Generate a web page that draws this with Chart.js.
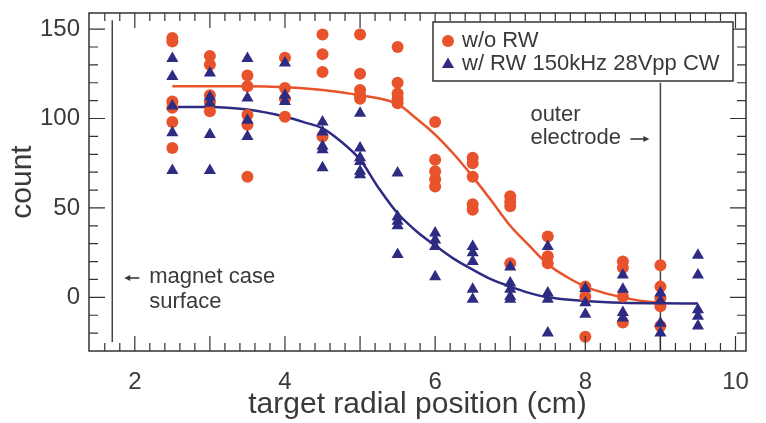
<!DOCTYPE html>
<html>
<head>
<meta charset="utf-8">
<script src="https://cdn.jsdelivr.net/npm/chart.js@4.4.0/dist/chart.umd.min.js"></script>
<style>
  body { margin: 0; background: #fff; }
  #wrap { width: 766px; height: 423px; }
</style>
</head>
<body>
<div id="wrap"><canvas id="chart1" width="766" height="423"></canvas></div>
<script>
// target radial positions (cm) where counts were measured
const positions = [2.5, 3, 3.5, 4, 4.5, 5, 5.5, 6, 6.5, 7, 7.5, 8, 8.5, 9, 9.5];

// w/o RW, one list of counts per position
const countsNoRW = [
    [145, 143, 109.5, 106, 98, 83.5],
    [135, 130, 113, 109, 104],
    [124, 118, 102, 96.5, 67.5],
    [134, 117, 111, 101],
    [147, 136, 126, 90],
    [147, 125, 116, 113, 111],
    [140, 120, 114, 111, 108.5],
    [98, 77, 70.5, 66, 62],
    [78, 75, 67.5, 52, 49],
    [56.5, 53.5, 51, 19],
    [34, 23, 19],
    [6, 0.5, -22],
    [20, 16.5, 0.5, -14],
    [18, 6, -0.5, -5, -16],
    []
];

// w/ RW 150kHz 28Vpp CW
const countsRW = [
    [133.5, 123.5, 107, 92, 71],
    [125.5, 112, 108.5, 91, 71],
    [133.5, 111.5, 99, 90],
    [131, 113, 109.5],
    [98, 92.5, 84.5, 82.5, 72.5],
    [103, 83.5, 78, 76, 70.5, 68.5],
    [69.5, 45, 42.5, 40, 24],
    [36, 32, 28.5, 11.5],
    [28.5, 25, 20, 4.5, -1],
    [17, 8, 4.5, 0.5, -1],
    [28.5, 2.5, -1, -20],
    [5, -3, -9.5],
    [12.5, 4.5, -8.5, -11.5],
    [2.5, -2, -14.5, -20],
    [23.5, 12.5, -7, -10.5, -16]
];

// fitted curves
const fitNoRWX = [2.5, 3, 3.5, 4, 4.5, 5, 5.5, 5.75, 6, 6.25, 6.5, 6.75, 7, 7.25, 7.5, 7.75, 8, 8.25, 8.5, 8.75, 9];
const fitNoRWY = [118, 118, 118, 117.5, 116, 113, 108, 100, 91, 80, 67.5, 54, 40, 29, 18.5, 11.5, 6, 2.5, 0, -2, -3];
const fitRWX = [2.5, 3, 3.5, 4, 4.25, 4.5, 4.75, 5, 5.25, 5.5, 5.75, 6, 6.25, 6.5, 6.75, 7, 7.25, 7.5, 8, 8.5, 9, 9.5];
const fitRWY = [106.5, 106.5, 105, 101, 98, 94.5, 87, 77, 61, 47, 37, 29, 21.5, 15.5, 10, 6, 2.5, 0, -2, -3, -3.3, -3.5];

const xTickLabels = [2, 4, 6, 8, 10];
const yTickLabels = [0, 50, 100, 150];
const magnetX = 1.7;
const electrodeX = 9;
const legendLabels = ['w/o RW', 'w/ RW 150kHz 28Vpp CW'];

const ORANGE = '#e8532b';
const NAVY = '#2e2b82';
const INK = '#3a3a3a';
const FONT = '"Liberation Sans", Arial, sans-serif';

function toPoints(cols) {
    let pts = [];
    cols.forEach((vals, i) => {
        vals.forEach(v => pts.push({x: positions[i], y: v}));
    });
    return pts;
}
function zipXY(xs, ys) {
    return xs.map((x, i) => ({x: x, y: ys[i]}));
}

// small arrow: shaft from x0 to x1, head at x1
function arrow(ctx, x0, x1, y) {
    const dir = x1 > x0 ? 1 : -1;
    ctx.beginPath();
    ctx.moveTo(x0, y);
    ctx.lineTo(x1 - dir * 4, y);
    ctx.stroke();
    ctx.beginPath();
    ctx.moveTo(x1, y);
    ctx.lineTo(x1 - dir * 6, y - 3);
    ctx.lineTo(x1 - dir * 6, y + 3);
    ctx.closePath();
    ctx.fill();
}

const decorPlugin = {
    id: 'decor',
    beforeDatasetsDraw(chart) {
        const ctx = chart.ctx;
        const xs = chart.scales.x, ys = chart.scales.y;
        ctx.save();
        ctx.strokeStyle = '#444';
        ctx.lineWidth = 1.5;
        ctx.beginPath();
        ctx.moveTo(xs.getPixelForValue(magnetX), ys.getPixelForValue(155));
        ctx.lineTo(xs.getPixelForValue(magnetX), ys.getPixelForValue(-25));
        ctx.moveTo(xs.getPixelForValue(electrodeX), ys.getPixelForValue(120));
        ctx.lineTo(xs.getPixelForValue(electrodeX), ys.getPixelForValue(-30));
        ctx.stroke();
        ctx.restore();
    },
    afterDraw(chart) {
        const ctx = chart.ctx;
        const a = chart.chartArea;
        const xs = chart.scales.x, ys = chart.scales.y;
        ctx.save();
        ctx.strokeStyle = '#333';
        ctx.lineWidth = 1.5;
        ctx.strokeRect(a.left, a.top, a.right - a.left, a.bottom - a.top);

        // inward ticks on all four sides
        ctx.lineWidth = 1.2;
        ctx.beginPath();
        for (let i = 7; i <= 50; i++) {
            const v = i / 5;
            const px = xs.getPixelForValue(v);
            if (px <= a.left + 2 || px >= a.right - 2) continue;
            const len = (i % 5 === 0) ? 15 : 8;
            ctx.moveTo(px, a.bottom); ctx.lineTo(px, a.bottom - len);
            ctx.moveTo(px, a.top); ctx.lineTo(px, a.top + len);
        }
        for (let v = -20; v <= 150; v += 10) {
            const py = ys.getPixelForValue(v);
            const len = (v % 50 === 0) ? 16 : 9;
            ctx.moveTo(a.left, py); ctx.lineTo(a.left + len, py);
            ctx.moveTo(a.right, py); ctx.lineTo(a.right - len, py);
        }
        ctx.stroke();

        // annotations
        ctx.fillStyle = INK;
        ctx.strokeStyle = INK;
        ctx.lineWidth = 1.6;
        ctx.textBaseline = 'middle';
        ctx.textAlign = 'left';
        const mx = xs.getPixelForValue(magnetX);
        const ex = xs.getPixelForValue(electrodeX);
        arrow(ctx, mx + 27, mx + 12, 278);
        arrow(ctx, ex - 30, ex - 11, 139);
        ctx.font = '22px ' + FONT;
        ctx.fillText('magnet case', mx + 37, 277);
        ctx.fillText('surface', mx + 37, 302);
        ctx.fillText('outer', ex - 130, 115);
        ctx.fillText('electrode', ex - 130, 138);

        // legend box
        const lx = 433, ly = 22, lw = 300, lh = 59;
        ctx.fillStyle = '#fff';
        ctx.fillRect(lx, ly, lw, lh);
        ctx.strokeStyle = '#333';
        ctx.lineWidth = 1.5;
        ctx.strokeRect(lx, ly, lw, lh);
        const styles = [
            {style: 'circle', color: ORANGE, r: 6},
            {style: 'triangle', color: NAVY, r: 7}
        ];
        legendLabels.forEach((t, i) => {
            const y = ly + 19 + i * 22.5;
            ctx.fillStyle = styles[i].color;
            ctx.strokeStyle = styles[i].color;
            Chart.helpers.drawPoint(ctx, {pointStyle: styles[i].style, radius: styles[i].r, borderWidth: 0}, lx + 15, y + (i ? 1 : 0));
            ctx.fillStyle = INK;
            ctx.fillText(t, lx + 29, y);
        });
        ctx.restore();
    }
};

const ctx = document.getElementById('chart1').getContext('2d');
const chart = new Chart(ctx, {
    type: 'scatter',
    data: {
        datasets: [{
            label: legendLabels[1],
            data: toPoints(countsRW),
            pointStyle: 'triangle',
            pointRadius: 7,
            backgroundColor: NAVY,
            borderColor: NAVY,
            borderWidth: 0
        }, {
            label: legendLabels[0],
            data: toPoints(countsNoRW),
            pointStyle: 'circle',
            pointRadius: 6,
            backgroundColor: ORANGE,
            borderColor: ORANGE,
            borderWidth: 0
        }, {
            label: 'fit w/ RW',
            type: 'line',
            data: zipXY(fitRWX, fitRWY),
            borderColor: NAVY,
            borderWidth: 2.5,
            pointRadius: 0,
            cubicInterpolationMode: 'monotone',
            fill: false
        }, {
            label: 'fit w/o RW',
            type: 'line',
            data: zipXY(fitNoRWX, fitNoRWY),
            borderColor: ORANGE,
            borderWidth: 2.5,
            pointRadius: 0,
            cubicInterpolationMode: 'monotone',
            fill: false
        }]
    },
    options: {
        responsive: false,
        animation: false,
        layout: { padding: { top: 13, right: 20, left: 0, bottom: 0 } },
        plugins: {
            legend: { display: false },
            tooltip: { enabled: false }
        },
        scales: {
            x: {
                type: 'linear',
                min: 1.39,
                max: 10.14,
                grid: { display: false, drawTicks: false },
                border: { display: false },
                afterBuildTicks: function(scale) {
                    scale.ticks = xTickLabels.map(v => ({value: v}));
                },
                afterFit: function(scale) {
                    scale.height = 72;
                    scale.paddingLeft = 0;
                    scale.paddingRight = 0;
                },
                ticks: {
                    color: INK,
                    font: { family: FONT, size: 24 },
                    padding: 17,
                    maxRotation: 0
                },
                title: {
                    display: true,
                    text: 'target radial position (cm)',
                    color: INK,
                    font: { family: FONT, size: 30 },
                    padding: { top: 0, bottom: 0 }
                }
            },
            y: {
                min: -30,
                max: 159,
                grid: { display: false, drawTicks: false },
                border: { display: false },
                afterBuildTicks: function(scale) {
                    scale.ticks = yTickLabels.map(v => ({value: v}));
                },
                afterFit: function(scale) {
                    scale.width = 89;
                    scale.paddingTop = 0;
                    scale.paddingBottom = 0;
                },
                ticks: {
                    color: INK,
                    font: { family: FONT, size: 24 },
                    padding: 9
                },
                title: {
                    display: true,
                    text: 'count',
                    color: INK,
                    font: { family: FONT, size: 30 },
                    padding: { top: 5, bottom: 0 }
                }
            }
        }
    },
    plugins: [decorPlugin]
});
</script>
</body>
</html>
